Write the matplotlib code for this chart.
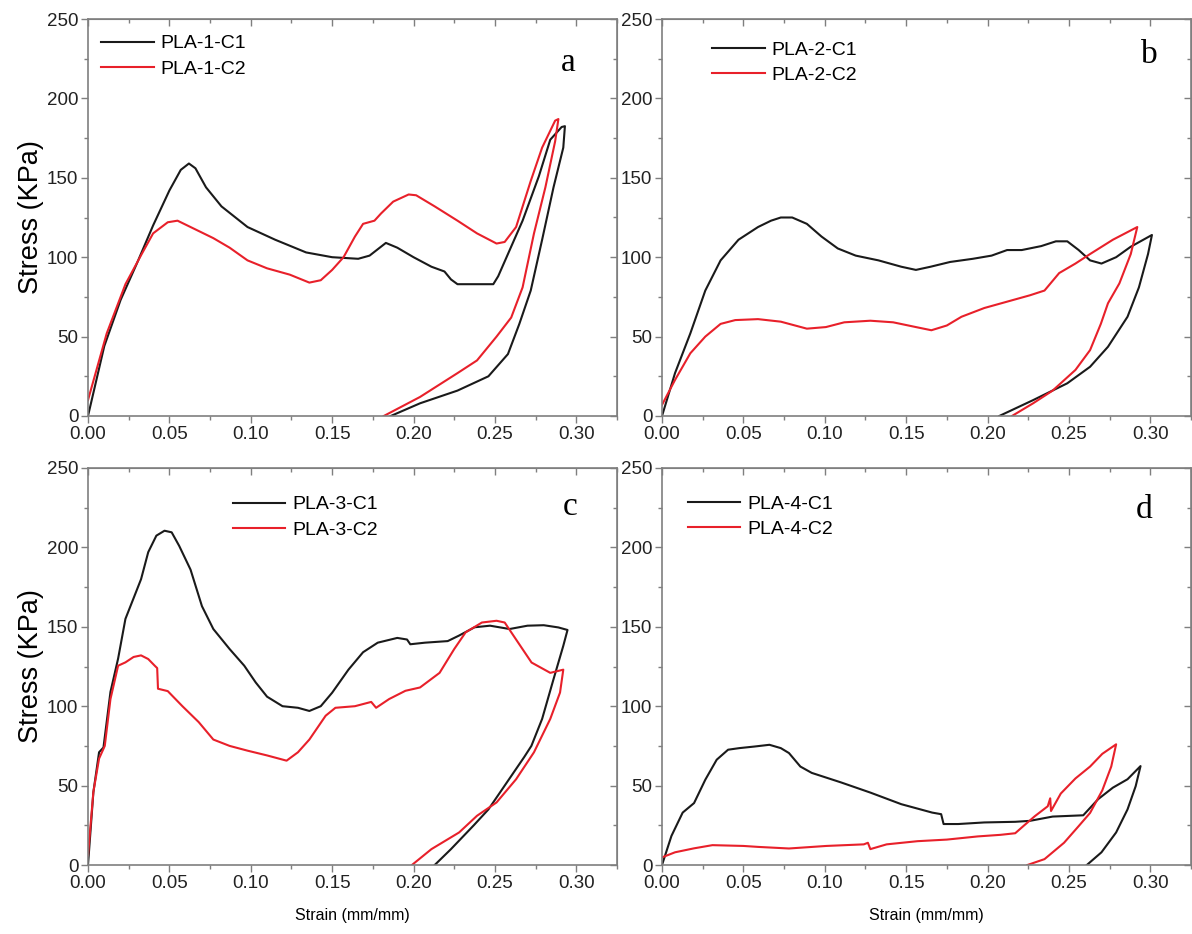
import matplotlib.pyplot as plt
from matplotlib.ticker import MultipleLocator

# ==================== data ====================
# panel a
a_c1_strain = [0.0, 0.01, 0.02, 0.03, 0.04, 0.05, 0.057, 0.062, 0.066, 0.0725, 0.082, 0.098, 0.115,
               0.134, 0.15, 0.166, 0.173, 0.183, 0.19, 0.20, 0.211, 0.219, 0.223, 0.227, 0.249,
               0.252, 0.258, 0.267, 0.277, 0.284, 0.291, 0.293,
               0.292, 0.286, 0.279, 0.272, 0.265, 0.258, 0.246, 0.227, 0.204, 0.186]
a_c1_stress = [0, 44, 73, 96, 120, 142, 155, 159, 156, 144, 132, 119, 111,
               103, 100, 99, 101, 109, 106, 100, 94, 91, 86, 83, 83,
               88, 102, 123, 151, 174, 182, 182.5,
               169, 144, 111, 79, 58, 39, 25, 16, 8, 0]
a_c2_strain = [0.0, 0.0115, 0.023, 0.033, 0.04, 0.049, 0.055, 0.063, 0.077, 0.087, 0.098, 0.11,
               0.124, 0.136, 0.143, 0.15, 0.157, 0.164, 0.169, 0.176, 0.18, 0.1875, 0.197, 0.2016,
               0.213, 0.227, 0.239, 0.251, 0.256, 0.263, 0.272, 0.279, 0.287, 0.289,
               0.287, 0.281, 0.274, 0.267, 0.260, 0.251, 0.239, 0.227, 0.204, 0.1817]
a_c2_stress = [10, 52, 83, 102, 115, 122, 123, 119, 112, 106, 98, 93,
               89, 84, 85.5, 92, 100, 113, 121, 123, 127.5, 135, 139.5, 139,
               132, 123, 115, 108.6, 109.6, 119, 148, 169, 186, 187,
               173, 144, 115, 81, 62, 50, 35, 27, 12, 0]

# panel b
b_c1_strain = [0.0, 0.008, 0.0174, 0.0266, 0.036, 0.047, 0.059, 0.067, 0.073, 0.08, 0.089, 0.098, 0.108,
               0.119, 0.133, 0.147, 0.156, 0.165, 0.177, 0.191, 0.2025, 0.212, 0.221, 0.233, 0.242,
               0.249, 0.256, 0.263, 0.27, 0.279, 0.288, 0.301,
               0.2986, 0.293, 0.286, 0.274, 0.263, 0.249, 0.228, 0.2072]
b_c1_stress = [0, 27, 52, 79, 98, 111, 119, 123, 125, 125, 121, 113, 105.5,
               101, 98, 94, 92, 94, 97, 99, 101, 104.5, 104.5, 107, 110,
               110, 104.5, 98, 96, 100, 106.6, 114,
               102, 81, 62.5, 43.6, 31, 20.6, 10, 0]
b_c2_strain = [0.0, 0.008, 0.0174, 0.0266, 0.036, 0.045, 0.059, 0.073, 0.089, 0.1007, 0.112, 0.128,
               0.142, 0.156, 0.1655, 0.175, 0.184, 0.198, 0.212, 0.226, 0.235, 0.244, 0.254, 0.263,
               0.277, 0.292,
               0.288, 0.281, 0.274, 0.2696, 0.263, 0.254, 0.24, 0.228, 0.215]
b_c2_stress = [7, 22.7, 39.5, 50, 58, 60.4, 61, 59.4, 55, 56, 59, 60,
               59, 56, 54, 57, 62.5, 68, 72, 76, 79, 90, 96, 102,
               111, 119,
               102, 83.5, 71, 58, 41.5, 29, 16, 8, 0]

# panel c
c_c1_strain = [0.0, 0.0033, 0.0068, 0.0095, 0.0138, 0.0185, 0.023, 0.028, 0.0326, 0.037, 0.042, 0.047,
               0.0514, 0.056, 0.063, 0.070, 0.077, 0.087, 0.096, 0.103, 0.110, 0.1195, 0.129, 0.136,
               0.143, 0.15, 0.16, 0.169, 0.178, 0.19, 0.196, 0.198, 0.207, 0.221, 0.228, 0.2375,
               0.247, 0.259, 0.27, 0.28, 0.289, 0.2946,
               0.292, 0.286, 0.279, 0.2724, 0.268, 0.256, 0.246, 0.237, 0.223, 0.213]
c_c1_stress = [0, 45.8, 71, 74, 109, 130, 155, 168, 180, 197, 207.4, 210.5,
               209.5, 201, 186, 163, 148.6, 136, 125.5, 115, 106, 100, 99, 97,
               100, 108.5, 123, 134, 140, 143, 142, 139, 140, 141, 144.5, 149.7,
               150.7, 148.6, 150.7, 151, 149.6, 148,
               138, 117, 92, 75, 68, 50, 35, 25, 10, 0]
c_c2_strain = [0.0, 0.0033, 0.0068, 0.0103, 0.0138, 0.0185, 0.023, 0.028, 0.0326, 0.037, 0.041, 0.0425,
               0.043, 0.049, 0.058, 0.068, 0.077, 0.087, 0.098, 0.11, 0.122, 0.129, 0.136, 0.146,
               0.152, 0.164, 0.174, 0.177, 0.185, 0.195, 0.204, 0.216, 0.225, 0.232, 0.242, 0.251,
               0.256, 0.263, 0.2725, 0.284, 0.292,
               0.290, 0.284, 0.274, 0.263, 0.251, 0.239, 0.228, 0.211, 0.199]
c_c2_stress = [6, 46, 67, 75, 104.5, 125.5, 127.6, 131, 132, 129.7, 125.5, 124,
               111, 109.5, 100, 90, 79, 75, 72, 69, 65.7, 71, 79, 94,
               99, 100, 102.7, 99, 104.5, 109.7, 111.8, 121, 136, 146.5, 152.7, 153.8,
               152.7, 142, 127.5, 121, 123,
               108.6, 92, 71, 54, 39.4, 31, 20.5, 10, 0]

# panel d
d_c1_strain = [0.0, 0.0058, 0.0127, 0.0197, 0.0266, 0.0336, 0.0406, 0.0475, 0.0568, 0.066, 0.073, 0.078,
               0.085, 0.092, 0.110, 0.128, 0.147, 0.166, 0.1715, 0.173, 0.182, 0.198, 0.217, 0.226,
               0.240, 0.2588, 0.268, 0.277, 0.286, 0.294,
               0.291, 0.286, 0.279, 0.27, 0.261]
d_c1_stress = [0, 18.3, 33, 39, 53.7, 66.3, 72.6, 73.6, 74.6, 75.7, 73.6, 70.5,
               62, 58, 52, 45.6, 38.3, 33, 32, 25.8, 25.8, 26.8, 27.2, 27.8,
               30.5, 31.3, 41.5, 48.7, 54, 62.3,
               49.6, 35, 20.5, 8, 0]
d_c2_strain = [0.0, 0.008, 0.0197, 0.031, 0.05, 0.059, 0.078, 0.101, 0.124, 0.1265, 0.128, 0.138,
               0.157, 0.175, 0.194, 0.208, 0.217, 0.222, 0.229, 0.237, 0.2385, 0.239, 0.245, 0.254,
               0.263, 0.2705, 0.279,
               0.276, 0.2705, 0.263, 0.256, 0.247, 0.235, 0.2245]
d_c2_stress = [4.8, 8, 10.5, 12.5, 12, 11.4, 10.4, 12, 13, 14, 10, 13,
               15, 16, 18, 19, 20, 24.5, 30.7, 37, 42, 34, 45, 54.5,
               62, 70, 76,
               62, 47, 32.8, 24.5, 14, 3.7, 0]

panels = [
    ('a', 'PLA-1', a_c1_strain, a_c1_stress, a_c2_strain, a_c2_stress),
    ('b', 'PLA-2', b_c1_strain, b_c1_stress, b_c2_strain, b_c2_stress),
    ('c', 'PLA-3', c_c1_strain, c_c1_stress, c_c2_strain, c_c2_stress),
    ('d', 'PLA-4', d_c1_strain, d_c1_stress, d_c2_strain, d_c2_stress),
]

# ==================== plot ====================
plt.rcParams['font.family'] = ['Liberation Sans', 'DejaVu Sans']
fig = plt.figure(figsize=(11.92, 9.34), dpi=100)

W, H = 1192, 934
lefts = [88, 662, 88, 662]
tops = [19, 19, 468, 468]
aw, ah = 529, 397
leg_pos = [(0.025, 0.96), (0.095, 0.944), (0.274, 0.93), (0.049, 0.932)]
letter_pos = [(0.907, 0.891), (0.921, 0.909), (0.911, 0.902), (0.911, 0.894)]
spine_col = '#7f7f7f'
black = '#1a1a1a'
red = '#e8202a'

for i, (letter, name, s1, y1, s2, y2) in enumerate(panels):
    ax = fig.add_axes([lefts[i] / W, 1 - (tops[i] + ah) / H, aw / W, ah / H])
    ax.plot(s1, y1, color=black, lw=1.5, label=name + '-C1')
    ax.plot(s2, y2, color=red, lw=1.5, label=name + '-C2')
    ax.set_xlim(0, 0.325)
    ax.set_ylim(0, 250)
    ax.xaxis.set_major_locator(MultipleLocator(0.05))
    ax.xaxis.set_minor_locator(MultipleLocator(0.025))
    ax.yaxis.set_major_locator(MultipleLocator(50))
    ax.yaxis.set_minor_locator(MultipleLocator(25))
    ax.xaxis.set_major_formatter(lambda v, p: f'{v:.2f}')
    ax.tick_params(which='major', direction='out', length=5, width=1, color=spine_col,
                   labelsize=13.5, labelcolor='#222222', pad=2)
    ax.tick_params(which='minor', direction='out', length=3, width=1, color=spine_col)
    for sp in ax.spines.values():
        sp.set_color(spine_col)
        sp.set_linewidth(1.2)

    # mirrored ticks pointing inward on top / right
    top = ax.secondary_xaxis('top')
    top.xaxis.set_major_locator(MultipleLocator(0.05))
    top.xaxis.set_minor_locator(MultipleLocator(0.025))
    top.tick_params(which='major', direction='in', length=5, width=1, color=spine_col, labeltop=False)
    top.tick_params(which='minor', direction='in', length=3, width=1, color=spine_col)
    top.spines['top'].set_color(spine_col)
    right = ax.secondary_yaxis('right')
    right.yaxis.set_major_locator(MultipleLocator(50))
    right.yaxis.set_minor_locator(MultipleLocator(25))
    right.tick_params(which='major', direction='in', length=5, width=1, color=spine_col, labelright=False)
    right.tick_params(which='minor', direction='in', length=3, width=1, color=spine_col)
    right.spines['right'].set_color(spine_col)

    if i in (0, 2):
        ax.set_ylabel('Stress (KPa)', fontsize=19.5, labelpad=2)
    if i in (2, 3):
        ax.set_xlabel('Strain (mm/mm)', fontsize=11.5, labelpad=12)

    ax.legend(loc='upper left', bbox_to_anchor=leg_pos[i], frameon=False, fontsize=14,
              borderpad=0, borderaxespad=0, handlelength=2.7, handletextpad=0.35,
              labelspacing=0.4)
    ax.text(letter_pos[i][0], letter_pos[i][1], letter, transform=ax.transAxes,
            family=['Liberation Serif', 'DejaVu Serif'], fontsize=24,
            ha='center', va='center')

plt.savefig('out.png', dpi=100)
